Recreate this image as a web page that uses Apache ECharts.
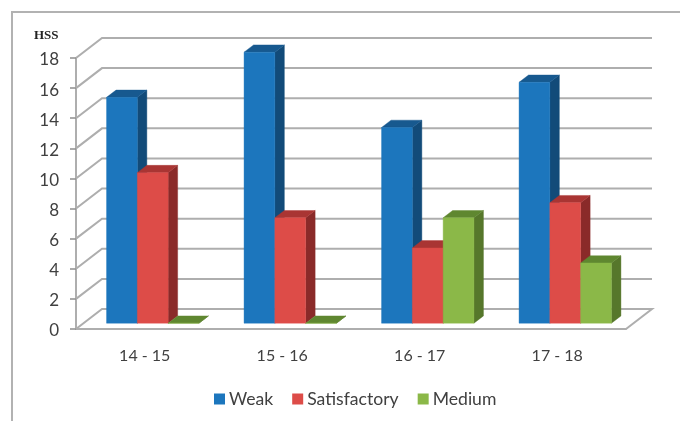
<!DOCTYPE html>
<html>
<head>
<meta charset="utf-8">
<style>html,body{margin:0;padding:0;background:#fff}#chart{width:680px;height:421px}</style>
<script src="https://cdn.jsdelivr.net/npm/echarts@6/dist/echarts.min.js"></script>
</head>
<body>
<div id="chart"></div>
<script>
// School years and the number of students in each result band
const years = ['14 - 15', '15 - 16', '16 - 17', '17 - 18'];
const weak = [15, 18, 13, 16];
const satisfactory = [10, 7, 5, 8];
const medium = [0, 0, 7, 4];
const yTicks = [0, 2, 4, 6, 8, 10, 12, 14, 16, 18];

// Oblique projection of the chart box and of the columns standing inside it
const WALL_DX = 26, WALL_DY = -20;
const COL_DX = 9.5, COL_DY = -7.3;
const FLOOR_INSET_Y = 5.8;
const GROUP_SHIFT = 8;
const COL_WIDTH = 30.8;
const GRID_COLOR = '#aeaeae';

const shades = {
  Weak: { front: '#1c76bd', top: '#17598f', side: '#124b79' },
  Satisfactory: { front: '#dd4c48', top: '#a93533', side: '#8a2a29' },
  Medium: { front: '#8bb848', top: '#5f8730', side: '#56772b' }
};

function poly(points, fill) {
  return { type: 'polygon', shape: { points: points }, style: { fill: fill, stroke: fill, lineWidth: 0.4 } };
}

// One series per band: each column is a front face, a top face and a side face
function columnRenderer(name, slot) {
  return function (params, api) {
    const c = shades[name];
    const center = api.coord([api.value(0), 0])[0];
    const base = api.coord([api.value(0), 0])[1] - FLOOR_INSET_Y;
    const top = api.coord([api.value(0), api.value(1)])[1] - FLOOR_INSET_Y;
    const x0 = center + GROUP_SHIFT + (slot - 1.5) * COL_WIDTH;
    const x1 = x0 + COL_WIDTH;
    return {
      type: 'group',
      children: [
        poly([[x1, top], [x1 + COL_DX, top + COL_DY], [x1 + COL_DX, base + COL_DY], [x1, base]], c.side),
        poly([[x0, top], [x0 + COL_DX, top + COL_DY], [x1 + COL_DX, top + COL_DY], [x1, top]], c.top),
        poly([[x0, top], [x1, top], [x1, base], [x0, base]], c.front)
      ]
    };
  };
}

function columnSeries(name, values, slot) {
  return {
    name: name,
    type: 'custom',
    z: 5 + slot,
    itemStyle: { color: shades[name].front },
    encode: { x: 0, y: 1 },
    data: values.map(function (v, i) { return [i, v]; }),
    renderItem: columnRenderer(name, slot)
  };
}

// Back-wall rules with their diagonals along the left wall, plus the floor outline
function wallRenderer(params, api) {
  const tick = api.value(1);
  const y = api.coord([0, tick])[1];
  const left = params.coordSys.x;
  const right = left + params.coordSys.width;
  const pts = [[left, y], [left + WALL_DX, y + WALL_DY], [right + WALL_DX, y + WALL_DY]];
  if (tick === 0) pts.push([right, y]);
  return {
    type: 'polyline',
    shape: { points: pts },
    style: { fill: 'none', stroke: GRID_COLOR, lineWidth: 2 }
  };
}

const chart = echarts.init(document.getElementById('chart'), null, { renderer: 'canvas' });
chart.setOption({
  animation: false,
  backgroundColor: '#fff',
  title: {
    text: 'HSS',
    left: 29,
    top: 24,
    textStyle: { fontFamily: 'Liberation Serif', fontSize: 13, fontWeight: 'bold', color: '#222' }
  },
  legend: {
    data: ['Weak', 'Satisfactory', 'Medium'],
    left: 209,
    top: 385,
    itemWidth: 11,
    itemHeight: 11,
    itemGap: 19,
    icon: 'rect',
    textStyle: { fontFamily: 'Lato', fontSize: 17.6, color: '#404040', padding: [0, 0, 0, -1] }
  },
  grid: { left: 76, right: 54, top: 58, bottom: 92 },
  xAxis: {
    type: 'category',
    data: years,
    axisLine: { lineStyle: { color: GRID_COLOR, width: 2 } },
    axisTick: { length: 5, lineStyle: { color: '#8e8e8e', width: 1.5 } },
    axisLabel: { fontFamily: 'Lato', fontSize: 16, color: '#404040', margin: 19 }
  },
  yAxis: {
    type: 'value',
    min: 0,
    max: 18,
    interval: 2,
    splitLine: { show: false },
    axisLine: { show: true, lineStyle: { color: GRID_COLOR, width: 2 } },
    axisTick: { show: true, length: 6, lineStyle: { color: '#8e8e8e', width: 1.5 } },
    axisLabel: { fontFamily: 'Lato', fontSize: 17, color: '#404040', margin: 17, verticalAlign: 'top', lineHeight: 4 }
  },
  graphic: [{
    type: 'rect',
    silent: true,
    shape: { x: 12, y: 12, width: 700, height: 450 },
    style: { fill: 'none', stroke: '#b2b2b2', lineWidth: 2 }
  }],
  series: [
    {
      name: 'wall',
      type: 'custom',
      z: 1,
      encode: { x: 0, y: 1 },
      data: yTicks.map(function (t) { return [0, t]; }),
      renderItem: wallRenderer
    },
    columnSeries('Weak', weak, 0),
    columnSeries('Satisfactory', satisfactory, 1),
    columnSeries('Medium', medium, 2)
  ]
});
</script>
</body>
</html>
